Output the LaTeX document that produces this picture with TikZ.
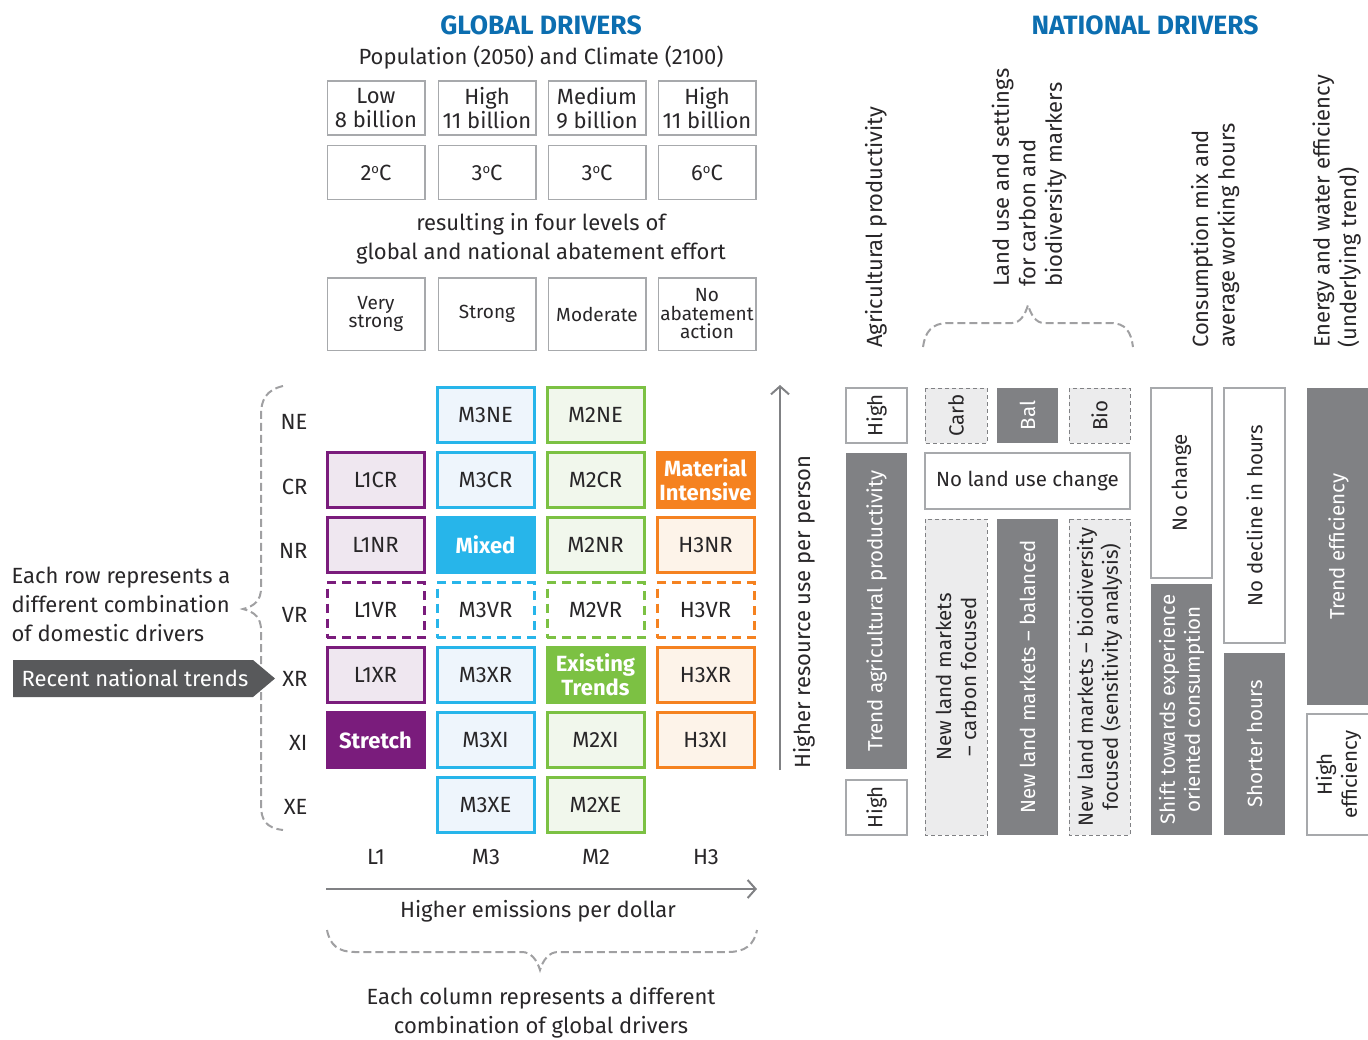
\documentclass[tikz,border=0pt]{standalone}
\usepackage{fontspec}
\setmainfont{Fira Sans}
\usetikzlibrary{arrows.meta}
\definecolor{tblue}{RGB}{12,110,176}
\definecolor{txtc}{RGB}{40,38,40}
\definecolor{cP}{RGB}{122,28,124}
\definecolor{cPl}{RGB}{239,231,240}
\definecolor{cB}{RGB}{39,181,234}
\definecolor{cBl}{RGB}{238,245,252}
\definecolor{cG}{RGB}{124,193,67}
\definecolor{cGl}{RGB}{241,247,236}
\definecolor{cO}{RGB}{245,130,32}
\definecolor{cOl}{RGB}{253,243,233}
\definecolor{dgray}{RGB}{128,129,132}
\definecolor{bgray}{RGB}{167,169,172}
\definecolor{lgray}{RGB}{236,236,237}
\definecolor{agray}{RGB}{88,89,91}
\definecolor{brgray}{RGB}{160,160,162}
\newcommand{\degc}{{\raisebox{0.6ex}{\fontsize{13}{13}\selectfont o}}C}
\begin{document}
\begin{tikzpicture}[x=1pt,y=-1pt,
  every node/.style={text=txtc},
  title/.style={font=\fontsize{26.5}{30}\selectfont\bfseries, text=tblue},
  txt/.style={font=\fontsize{22}{29}\selectfont, align=center},
  gbox/.style={draw=bgray, line width=1.5pt, fill=white, minimum width=97.5pt, align=center, inner sep=0pt},
  gtxt/.style={font=\fontsize{22}{23.5}\selectfont},
  atxt/.style={font=\fontsize{19}{18.5}\selectfont},
  cell/.style={line width=3pt, minimum width=97pt, minimum height=55pt, inner sep=0pt, align=center, font=\fontsize{22}{23.5}\selectfont},
  cP/.style={cell, draw=cP, fill=cPl},
  cB/.style={cell, draw=cB, fill=cBl},
  cG/.style={cell, draw=cG, fill=cGl},
  cO/.style={cell, draw=cO, fill=cOl},
  cdash/.style={fill=white, dash pattern=on 9pt off 6pt},
  cfull/.style={text=white, font=\fontsize{22}{23.5}\selectfont\bfseries},
  rlab/.style={anchor=east, font=\fontsize{22}{24}\selectfont},
  brace/.style={draw=brgray, line width=2pt, dash pattern=on 8pt off 4pt},
  axis/.style={draw=dgray, line width=2pt, -{Straight Barb[length=8pt,width=18pt,line width=2pt]}},
  nb/.style={rotate=90, inner sep=0pt, align=center, font=\fontsize{20.5}{25}\selectfont},
  nw/.style={nb, draw=bgray, line width=1.5pt, fill=white},
  nd/.style={nb, fill=dgray, text=white},
  nl/.style={nb, draw=dgray, line width=1pt, fill=lgray, dash pattern=on 4pt off 3pt},
  hd/.style={rotate=90, anchor=west, inner sep=0pt, align=left, font=\fontsize{22}{26.5}\selectfont}
]
\useasboundingbox (0,0) rectangle (1368,1039);

% titles
\node[title] (gd) at (541,25) {GLOBAL DRIVERS};
\node[title] (ndr) at (1145,25) {NATIONAL DRIVERS};
\node[txt] (pop) at (541,58) {Population (2050) and Climate (2100)};

% population boxes
\node[gbox, gtxt, minimum height=54pt] (p1) at (376,108) {Low\\8 billion};
\node[gbox, gtxt, minimum height=54pt] (p2) at (487,108) {High\\11 billion};
\node[gbox, gtxt, minimum height=54pt] (p3) at (597,108) {Medium\\9 billion};
\node[gbox, gtxt, minimum height=54pt] (p4) at (707,108) {High\\11 billion};
% climate boxes
\node[gbox, gtxt, minimum height=54pt] (t1) at (376,172.5) {2\degc};
\node[gbox, gtxt, minimum height=54pt] (t2) at (487,172.5) {3\degc};
\node[gbox, gtxt, minimum height=54pt] (t3) at (597,172.5) {3\degc};
\node[gbox, gtxt, minimum height=54pt] (t4) at (707,172.5) {6\degc};

\node[txt] (res) at (541,238.5) {resulting in four levels of\\global and national abatement effort};

% abatement boxes
\node[gbox, atxt, minimum height=72.5pt] (a1) at (376,314) {Very\\strong};
\node[gbox, atxt, minimum height=72.5pt] (a2) at (487,314) {Strong};
\node[gbox, atxt, minimum height=72.5pt] (a3) at (597,314) {Moderate};
\node[gbox, atxt, minimum height=72.5pt] (a4) at (707,314) {No\\abatement\\action};

% row labels
\node[rlab] (rNE) at (311,422) {NE};
\node[rlab] (rCR) at (311,487) {CR};
\node[rlab] (rNR) at (311,551) {NR};
\node[rlab] (rVR) at (311,615) {VR};
\node[rlab] (rXR) at (311,679) {XR};
\node[rlab] (rXI) at (311,743) {XI};
\node[rlab] (rXE) at (311,807) {XE};

% grid cells
\node[cB] (M3NE) at (485.5,415) {M3NE};
\node[cG] (M2NE) at (595.5,415) {M2NE};

\node[cP] (L1CR) at (375.5,480) {L1CR};
\node[cB] (M3CR) at (485.5,480) {M3CR};
\node[cG] (M2CR) at (595.5,480) {M2CR};
\node[cO, fill=cO, cfull] (H3CR) at (705.5,480) {Material\\Intensive};

\node[cP] (L1NR) at (375.5,545) {L1NR};
\node[cB, fill=cB, cfull] (M3NR) at (485.5,545) {Mixed};
\node[cG] (M2NR) at (595.5,545) {M2NR};
\node[cO] (H3NR) at (705.5,545) {H3NR};

\node[cP, cdash] (L1VR) at (375.5,610) {L1VR};
\node[cB, cdash] (M3VR) at (485.5,610) {M3VR};
\node[cG, cdash] (M2VR) at (595.5,610) {M2VR};
\node[cO, cdash] (H3VR) at (705.5,610) {H3VR};

\node[cP] (L1XR) at (375.5,675) {L1XR};
\node[cB] (M3XR) at (485.5,675) {M3XR};
\node[cG, fill=cG, cfull] (M2XR) at (595.5,675) {Existing\\Trends};
\node[cO] (H3XR) at (705.5,675) {H3XR};

\node[cP, fill=cP, cfull] (L1XI) at (375.5,740) {Stretch};
\node[cB] (M3XI) at (485.5,740) {M3XI};
\node[cG] (M2XI) at (595.5,740) {M2XI};
\node[cO] (H3XI) at (705.5,740) {H3XI};

\node[cB] (M3XE) at (485.5,805) {M3XE};
\node[cG] (M2XE) at (595.5,805) {M2XE};

% column labels
\node[gtxt] (cL1) at (376,857) {L1};
\node[gtxt] (cM3) at (486,857) {M3};
\node[gtxt] (cM2) at (596,857) {M2};
\node[gtxt] (cH3) at (706,857) {H3};

% horizontal axis
\coordinate (hx0) at (326,889);
\coordinate (hx1) at (757,889);
\draw[axis] (hx0) -- (hx1);
\node[txt] (hem) at (538,911) {Higher emissions per dollar};

% bottom brace
\draw[brace] (327,930) .. controls (330,945) and (338,952) .. (355,952) -- (522,952)
  .. controls (531,952) and (537,960) .. (540,970)
  .. controls (543,960) and (549,952) .. (558,952) -- (728,952)
  .. controls (745,952) and (754,945) .. (757,930);
\node[txt] (ecol) at (541,1012.5) {Each column represents a different\\combination of global drivers};

% left brace
\draw[brace] (283,386) .. controls (266,390) and (261,400) .. (261,415) -- (261,588)
  .. controls (261,600) and (255,606) .. (243,609)
  .. controls (255,612) and (261,618) .. (261,630) -- (261,805)
  .. controls (261,820) and (266,828) .. (283,830);
\node[txt, align=left, anchor=west] (erow) at (8,604.5) {Each row represents a\\different combination\\of domestic drivers};

% recent national trends arrow
\fill[agray] (13,660) -- (253,660) -- (275,678.5) -- (253,697) -- (13,697) -- cycle;
\node[gtxt, text=white] (rnt) at (135,678.5) {Recent national trends};

% vertical axis
\coordinate (vy0) at (780,770);
\coordinate (vy1) at (780,385);
\draw[axis] (vy0) -- (vy1);
\node[txt, rotate=90] (hres) at (804,612) {Higher resource use per person};

% national headers
\node[hd] (hA) at (876,348) {Agricultural productivity};
\node[hd] (hB) at (1029,287) {Land use and settings\\for carbon and\\biodiversity markers};
\node[hd] (hC) at (1215,348) {Consumption mix and\\average working hours};
\node[hd] (hD) at (1336.5,348) {Energy and water efficiency\\(underlying trend)};

% top brace over land use
\draw[brace] (923,347) .. controls (925,332) and (932,323) .. (948,323) -- (1012,323)
  .. controls (1020,323) and (1025,315) .. (1028,305)
  .. controls (1031,315) and (1036,323) .. (1044,323) -- (1110,323)
  .. controls (1126,323) and (1131,332) .. (1133,347);

% agricultural productivity column
\node[nw, minimum width=55pt, minimum height=61pt] (AH1) at (876.5,415.5) {High};
\node[nd, minimum width=316pt, minimum height=61pt] (AT) at (876.5,611) {Trend agricultural productivity};
\node[nw, minimum width=55pt, minimum height=61pt] (AH2) at (876.5,807.5) {High};

% land use columns
\node[nl, minimum width=55pt, minimum height=62pt] (Carb) at (956,415.5) {Carb};
\node[nd, minimum width=55pt, minimum height=61pt] (Bal) at (1027.5,415.5) {Bal};
\node[nl, minimum width=55pt, minimum height=61pt] (Bio) at (1099.5,415.5) {Bio};
\node[draw=bgray, line width=1.5pt, fill=white, minimum width=205pt, minimum height=56pt, inner sep=0pt, font=\fontsize{20.5}{23}\selectfont] (NLU) at (1027.5,481) {No land use change};
\node[nl, minimum width=316pt, minimum height=62pt] (NLMc) at (956,677) {New land markets\\– carbon focused};
\node[nd, minimum width=316pt, minimum height=61pt] (NLMb) at (1027.5,677) {New land markets – balanced};
\node[nl, minimum width=316pt, minimum height=61pt] (NLMd) at (1099.5,677) {New land markets – biodiversity\\focused (sensitivity analysis)};

% consumption columns
\node[nw, minimum width=190pt, minimum height=61pt] (NCh) at (1181.5,483) {No change};
\node[nd, minimum width=251pt, minimum height=61pt] (Shift) at (1181.5,709.5) {Shift towards experience\\oriented consumption};
\node[nw, minimum width=255pt, minimum height=61pt] (NDec) at (1254.5,515.5) {No decline in hours};
\node[nd, minimum width=182pt, minimum height=61pt] (Short) at (1254.5,744) {Shorter hours};

% efficiency column
\node[nd, minimum width=317pt, minimum height=63pt] (TE) at (1338.5,546.5) {Trend efficiency};
\node[nw, minimum width=121pt, minimum height=63pt] (HE) at (1338.5,774.5) {High\\efficiency};

\end{tikzpicture}
\end{document}
